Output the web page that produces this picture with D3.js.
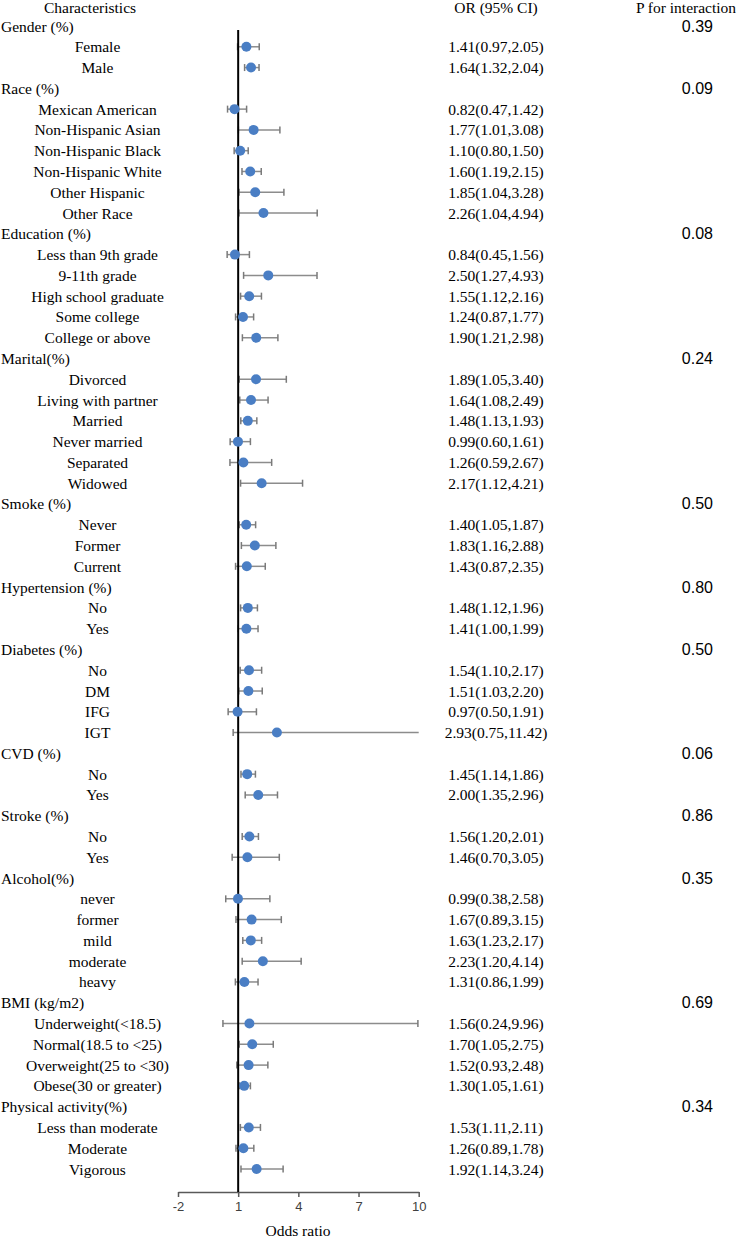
<!DOCTYPE html>
<html><head><meta charset="utf-8">
<script src="https://cdn.jsdelivr.net/npm/d3@7"></script>
<style>html,body{margin:0;padding:0;background:#fff;}</style>
</head><body>
<svg id="chart" width="750" height="1237"></svg>
<script>
const groups = ["Gender (%)","Race (%)","Education (%)","Marital(%)","Smoke (%)","Hypertension (%)","Diabetes (%)","CVD (%)","Stroke (%)","Alcohol(%)","BMI (kg/m2)","Physical activity(%)"];
const pInteraction = ["0.39","0.09","0.08","0.24","0.50","0.80","0.50","0.06","0.86","0.35","0.69","0.34"];
const subgroups = [
  ["Female","Male"],
  ["Mexican American","Non-Hispanic Asian","Non-Hispanic Black","Non-Hispanic White","Other Hispanic","Other Race"],
  ["Less than 9th grade","9-11th grade","High school graduate","Some college","College or above"],
  ["Divorced","Living with partner","Married","Never married","Separated","Widowed"],
  ["Never","Former","Current"],
  ["No","Yes"],
  ["No","DM","IFG","IGT"],
  ["No","Yes"],
  ["No","Yes"],
  ["never","former","mild","moderate","heavy"],
  ["Underweight(<18.5)","Normal(18.5 to <25)","Overweight(25 to <30)","Obese(30 or greater)"],
  ["Less than moderate","Moderate","Vigorous"]
];
const orValues = [
  [1.41,1.64],
  [0.82,1.77,1.10,1.60,1.85,2.26],
  [0.84,2.50,1.55,1.24,1.90],
  [1.89,1.64,1.48,0.99,1.26,2.17],
  [1.40,1.83,1.43],
  [1.48,1.41],
  [1.54,1.51,0.97,2.93],
  [1.45,2.00],
  [1.56,1.46],
  [0.99,1.67,1.63,2.23,1.31],
  [1.56,1.70,1.52,1.30],
  [1.53,1.26,1.92]
];
const ciLower = [
  [0.97,1.32],
  [0.47,1.01,0.80,1.19,1.04,1.04],
  [0.45,1.27,1.12,0.87,1.21],
  [1.05,1.08,1.13,0.60,0.59,1.12],
  [1.05,1.16,0.87],
  [1.12,1.00],
  [1.10,1.03,0.50,0.75],
  [1.14,1.35],
  [1.20,0.70],
  [0.38,0.89,1.23,1.20,0.86],
  [0.24,1.05,0.93,1.05],
  [1.11,0.89,1.14]
];
const ciUpper = [
  [2.05,2.04],
  [1.42,3.08,1.50,2.15,3.28,4.94],
  [1.56,4.93,2.16,1.77,2.98],
  [3.40,2.49,1.93,1.61,2.67,4.21],
  [1.87,2.88,2.35],
  [1.96,1.99],
  [2.17,2.20,1.91,11.42],
  [1.86,2.96],
  [2.01,3.05],
  [2.58,3.15,2.17,4.14,1.99],
  [9.96,2.75,2.48,1.61],
  [2.11,1.78,3.24]
];
const xTicks = [-2,1,4,7,10];

// build rows
const rows = [];
groups.forEach((g,gi)=>{
  rows.push({type:"header", label:g, p:pInteraction[gi]});
  subgroups[gi].forEach((s,si)=>{
    rows.push({type:"item", label:s, or:orValues[gi][si], lo:ciLower[gi][si], hi:ciUpper[gi][si]});
  });
});
rows.forEach((r,i)=>r.i=i);

const svg = d3.select("#chart");
const serif = "'Liberation Serif','Times New Roman',serif";
const sans = "'Liberation Sans','Open Sans',sans-serif";
const fs = 15.5;

const x = d3.scaleLinear().domain([-2,10]).range([178,418.7]);
const y = d3.scaleLinear().domain([0,rows.length-1]).range([26,1169]);
const axisY = 1192;

// column headers
const hdrY = 7;
svg.append("text").attr("x",90).attr("y",hdrY).attr("text-anchor","middle").attr("dominant-baseline","central")
  .attr("font-family",serif).attr("font-size",fs).text("Characteristics");
svg.append("text").attr("x",496).attr("y",hdrY).attr("text-anchor","middle").attr("dominant-baseline","central")
  .attr("font-family",serif).attr("font-size",fs).text("OR (95% CI)");
svg.append("text").attr("x",686).attr("y",hdrY).attr("text-anchor","middle").attr("dominant-baseline","central")
  .attr("font-family",serif).attr("font-size",fs).text("P for interaction");

// labels
svg.append("g").selectAll("text").data(rows).join("text")
  .attr("x",d=>d.type==="header"?1:97.5)
  .attr("y",d=>y(d.i))
  .attr("text-anchor",d=>d.type==="header"?"start":"middle")
  .attr("dominant-baseline","central")
  .attr("font-family",serif).attr("font-size",fs).attr("fill","#000")
  .text(d=>d.label);

// OR text
const items = rows.filter(r=>r.type==="item");
svg.append("g").selectAll("text").data(items).join("text")
  .attr("x",496).attr("y",d=>y(d.i))
  .attr("text-anchor","middle")
  .attr("dominant-baseline","central")
  .attr("font-family",serif).attr("font-size",fs)
  .text(d=>`${d.or.toFixed(2)}(${d.lo.toFixed(2)},${d.hi.toFixed(2)})`);

// P values
const headers = rows.filter(r=>r.type==="header");
svg.append("g").selectAll("text").data(headers).join("text")
  .attr("x",713).attr("y",d=>y(d.i))
  .attr("text-anchor","end").attr("dominant-baseline","central")
  .attr("font-family",sans).attr("font-size",16)
  .text(d=>d.p);

// axis
const axis = d3.axisBottom(x).tickValues(xTicks).tickSize(5).tickSizeOuter(0).tickFormat(d=>String(d));
const ax = svg.append("g").attr("transform",`translate(0,${axisY})`).call(axis);
ax.select(".domain").attr("stroke","#595959").attr("stroke-width",1.5);
ax.selectAll(".tick line").attr("stroke","#595959").attr("stroke-width",1.5);
ax.selectAll(".tick text").attr("font-family",sans).attr("font-size",13).attr("fill","#404040").attr("dy","0.85em");
svg.append("text").attr("x",298).attr("y",1230).attr("text-anchor","middle").attr("dominant-baseline","central")
  .attr("font-family",serif).attr("font-size",fs).text("Odds ratio");

// error bars
const [dmin,dmax] = x.domain();
const eb = svg.append("g").selectAll("g").data(items).join("g");
eb.append("line")
  .attr("x1",d=>x(Math.max(d.lo,dmin))).attr("x2",d=>x(Math.min(d.hi,dmax)))
  .attr("y1",d=>y(d.i)).attr("y2",d=>y(d.i))
  .attr("stroke","#8c8c8c").attr("stroke-width",1.5);
eb.filter(d=>d.lo>=dmin).append("line")
  .attr("x1",d=>x(d.lo)).attr("x2",d=>x(d.lo))
  .attr("y1",d=>y(d.i)-3.5).attr("y2",d=>y(d.i)+3.5)
  .attr("stroke","#7a7a7a").attr("stroke-width",1.5);
eb.filter(d=>d.hi<=dmax).append("line")
  .attr("x1",d=>x(d.hi)).attr("x2",d=>x(d.hi))
  .attr("y1",d=>y(d.i)-3.5).attr("y2",d=>y(d.i)+3.5)
  .attr("stroke","#7a7a7a").attr("stroke-width",1.5);

// reference line
svg.append("line").attr("x1",x(1)).attr("x2",x(1)).attr("y1",30).attr("y2",axisY)
  .attr("stroke","#000").attr("stroke-width",2);

// points
svg.append("g").selectAll("circle").data(items).join("circle")
  .attr("cx",d=>x(d.or)).attr("cy",d=>y(d.i)).attr("r",5)
  .attr("fill","#4a7ec4");
</script>
</body></html>
